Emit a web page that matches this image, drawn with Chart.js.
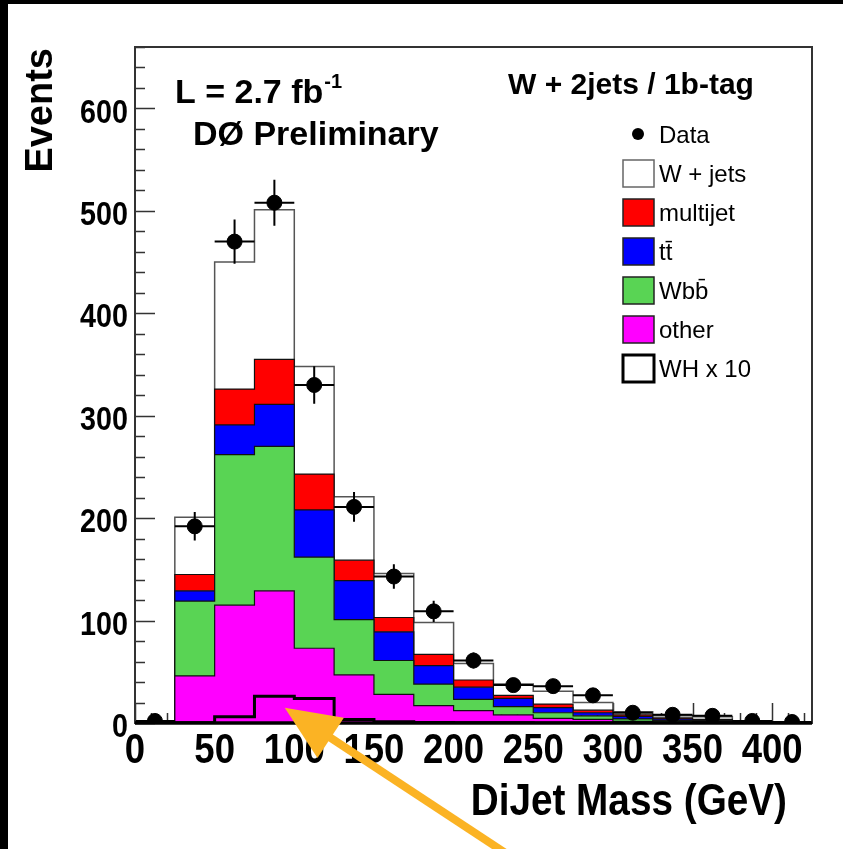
<!DOCTYPE html>
<html>
<head>
<meta charset="utf-8">
<script src="https://cdn.jsdelivr.net/npm/chart.js@4.4.1/dist/chart.umd.min.js"></script>
<style>
  html, body { margin: 0; padding: 0; background: #000; }
  canvas { display: block; }
</style>
</head>
<body>
<canvas id="dijet" width="843" height="849"></canvas>
<script>
// bordes de los bins (GeV), bins de 25 GeV
var binEdges = [0, 25, 50, 75, 100, 125, 150, 175, 200, 225, 250, 275, 300, 325, 350, 375, 400, 425];

// datos observados y su error
var dataEvents = [2, 192, 470, 508, 330, 211, 143, 109, 61, 37, 36, 27, 10, 8, 7, 2, 1];
var dataErrors = [1.4, 13.9, 21.7, 22.5, 18.2, 14.5, 12, 10.4, 7.8, 6.1, 6, 5.2, 3.2, 2.8, 2.6, 1.4, 1];

// fondos (apilados, de abajo hacia arriba)
var otherBkg    = [0, 46, 115, 129, 73, 47, 28, 17, 12, 8, 4.5, 3.5, 1.5, 1, 0.5, 0, 0];
var wbbBkg      = [0, 73, 147, 141, 89, 54, 33, 21, 11, 8, 5.5, 3.5, 2.5, 1.5, 1, 0, 0];
var ttBkg       = [0, 10, 29, 41, 46, 38, 28, 18, 12, 8, 5, 3, 2.5, 1.5, 1, 0, 0];
var multijetBkg = [0, 16, 35, 44, 35, 20, 14, 11, 7, 3, 3.5, 2.5, 1.5, 1, 1, 0.5, 0];
var wjetsBkg    = [0, 56, 124, 146, 105, 62, 43, 31, 16, 11, 12.5, 7.5, 3, 2, 2.5, 1, 1];

// senal WH multiplicada por 10
var whTimes10 = [0, 0.3, 6, 26, 24, 3.5, 1.3, 0.5, 0.3, 0.2, 0.1, 0, 0, 0, 0, 0, 0];

// etiquetas de los ejes
var xTickValues = [0, 50, 100, 150, 200, 250, 300, 350, 400];
var yTickValues = [0, 100, 200, 300, 400, 500, 600];

var FONT = "'Liberation Sans', Arial, Helvetica, sans-serif";

// puntos para el histograma escalonado
function stepPoints(values) {
    return binEdges.map(function (e, i) {
        return { x: e, y: i < values.length ? values[i] : 0 };
    });
}

var dataPoints = dataEvents.map(function (v, i) {
    return { x: (binEdges[i] + binEdges[i + 1]) / 2, y: v };
});

function stackLayer(label, values, fillColor, fill, lineColor, lineWidth) {
    return {
        type: "line",
        label: label,
        data: stepPoints(values),
        stepped: "before",
        fill: fill,
        backgroundColor: fillColor,
        borderColor: lineColor,
        borderWidth: lineWidth,
        pointRadius: 0,
        stack: "mc",
        order: 2,
    };
}

// texto condensado (estilo ROOT)
function drawText(ctx, text, x, y, font, align, sx, baseline) {
    ctx.save();
    ctx.translate(x, y);
    ctx.scale(sx, 1);
    ctx.font = font;
    ctx.textAlign = align;
    ctx.textBaseline = baseline || "alphabetic";
    ctx.fillText(text, 0, 0);
    ctx.restore();
}

var panelPlugin = {
    id: "panel",
    beforeDraw: function (chart) {
        var ctx = chart.ctx;
        ctx.save();
        ctx.fillStyle = "#000";
        ctx.fillRect(0, 0, chart.width, chart.height);
        ctx.fillStyle = "#fff";
        ctx.fillRect(8, 4, chart.width - 8, chart.height - 4);
        ctx.restore();
    },
};

// marcas de los ejes (por debajo del histograma, como en ROOT)
var ticksPlugin = {
    id: "ticks",
    beforeDatasetsDraw: function (chart) {
        var ctx = chart.ctx, a = chart.chartArea;
        var xs = chart.scales.x, ys = chart.scales.y;
        ctx.save();
        ctx.strokeStyle = "#333";
        ctx.lineWidth = 1.5;
        ctx.beginPath();
        for (var v = 0; v <= xs.max; v += 10) {
            var px = Math.round(xs.getPixelForValue(v)) + 0.5;
            var len = v % 50 === 0 ? 20 : 10;
            ctx.moveTo(px, a.bottom);
            ctx.lineTo(px, a.bottom - len);
        }
        for (var w = 0; w <= ys.max; w += 20) {
            var py = Math.round(ys.getPixelForValue(w)) + 0.5;
            var l2 = w % 100 === 0 ? 20 : 10;
            ctx.moveTo(a.left, py);
            ctx.lineTo(a.left + l2, py);
        }
        ctx.stroke();
        ctx.restore();
    },
};

var legendEntries = [
    { label: "Data", kind: "marker" },
    { label: "W + jets", fill: "#fff", line: "#666", width: 1.5 },
    { label: "multijet", fill: "#ff0000", line: "#222", width: 1.5 },
    { label: "tt\u0304", fill: "#0000ff", line: "#222", width: 1.5 },
    { label: "Wbb\u0304", fill: "#59d454", line: "#222", width: 1.5 },
    { label: "other", fill: "#ff00ff", line: "#222", width: 1.5 },
    { label: "WH x 10", fill: "#fff", line: "#000", width: 3 },
];

var overlayPlugin = {
    id: "overlay",
    afterDatasetsDraw: function (chart) {
        var ctx = chart.ctx, a = chart.chartArea;
        var xs = chart.scales.x, ys = chart.scales.y;
        ctx.save();

        // barras de error de los datos
        ctx.strokeStyle = "#000";
        ctx.lineWidth = 2;
        ctx.beginPath();
        dataEvents.forEach(function (v, i) {
            var x0 = xs.getPixelForValue(binEdges[i]);
            var x1 = xs.getPixelForValue(binEdges[i + 1]);
            var xc = (x0 + x1) / 2;
            var yc = ys.getPixelForValue(v);
            ctx.moveTo(x0, yc);
            ctx.lineTo(x1, yc);
            ctx.moveTo(xc, ys.getPixelForValue(v + dataErrors[i]));
            ctx.lineTo(xc, ys.getPixelForValue(Math.max(0, v - dataErrors[i])));
        });
        ctx.stroke();

        // marco
        ctx.strokeStyle = "#333";
        ctx.lineWidth = 2;
        ctx.strokeRect(a.left, a.top, a.right - a.left, a.bottom - a.top);
        ctx.strokeStyle = "#000";
        ctx.lineWidth = 3.5;
        ctx.beginPath();
        ctx.moveTo(a.left, a.bottom);
        ctx.lineTo(a.right, a.bottom);
        ctx.stroke();

        // etiquetas de los ejes
        ctx.fillStyle = "#000";
        yTickValues.forEach(function (v) {
            drawText(ctx, String(v), a.left - 7, ys.getPixelForValue(v) + 5,
                "bold 33px " + FONT, "right", 0.87, "middle");
        });
        xTickValues.forEach(function (v) {
            drawText(ctx, String(v), xs.getPixelForValue(v), 763,
                "bold 43px " + FONT, "center", 0.85);
        });

        // titulos de los ejes
        ctx.save();
        ctx.translate(52, 48);
        ctx.rotate(-Math.PI / 2);
        ctx.font = "bold 38px " + FONT;
        ctx.textAlign = "right";
        ctx.fillText("Events", 0, 0);
        ctx.restore();
        drawText(ctx, "DiJet Mass (GeV)", 787, 815, "bold 44px " + FONT, "right", 0.88);

        // textos
        ctx.font = "bold 34px " + FONT;
        ctx.textAlign = "left";
        ctx.fillText("L = 2.7 fb", 175, 103);
        var lw = ctx.measureText("L = 2.7 fb").width;
        ctx.font = "bold 20px " + FONT;
        ctx.fillText("-1", 175 + lw + 1, 88);
        ctx.font = "bold 34px " + FONT;
        ctx.fillText("D\u00d8 Preliminary", 193, 145);
        ctx.font = "bold 30px " + FONT;
        ctx.fillText("W + 2jets / 1b-tag", 508, 94);

        // leyenda
        legendEntries.forEach(function (e, i) {
            var cy = 134 + i * 39;
            if (e.kind === "marker") {
                ctx.fillStyle = "#000";
                ctx.beginPath();
                ctx.arc(638, cy, 6, 0, Math.PI * 2);
                ctx.fill();
            } else {
                ctx.fillStyle = e.fill;
                ctx.fillRect(623, cy - 13, 31, 27);
                ctx.strokeStyle = e.line;
                ctx.lineWidth = e.width;
                ctx.strokeRect(623, cy - 13, 31, 27);
            }
            ctx.fillStyle = "#000";
            ctx.font = "24px " + FONT;
            ctx.textAlign = "left";
            ctx.textBaseline = "alphabetic";
            ctx.fillText(e.label, 659, cy + 9);
        });

        // flecha senalando la senal WH
        var tx = xs.getPixelForValue(94), ty = ys.getPixelForValue(15);
        var bx = 510, by = 856;
        var dx = tx - bx, dy = ty - by, len = Math.sqrt(dx * dx + dy * dy);
        var ux = dx / len, uy = dy / len;
        var hb = 55, hw = 24;
        var cx = tx - ux * hb, cy2 = ty - uy * hb;
        ctx.strokeStyle = "#fbb324";
        ctx.fillStyle = "#fbb324";
        ctx.lineWidth = 8;
        ctx.beginPath();
        ctx.moveTo(bx, by);
        ctx.lineTo(cx + ux * 5, cy2 + uy * 5);
        ctx.stroke();
        ctx.beginPath();
        ctx.moveTo(tx, ty);
        ctx.lineTo(cx - uy * hw, cy2 + ux * hw);
        ctx.lineTo(cx + uy * hw, cy2 - ux * hw);
        ctx.closePath();
        ctx.fill();

        ctx.restore();
    },
};

var ctx = document.getElementById("dijet").getContext("2d");
var dijetChart = new Chart(ctx, {
    type: "line",
    data: {
        datasets: [
            stackLayer("other", otherBkg, "#ff00ff", "origin", "#111", 1.2),
            stackLayer("Wbb", wbbBkg, "#59d454", "-1", "#111", 1.2),
            stackLayer("tt", ttBkg, "#0000ff", "-1", "#111", 1.2),
            stackLayer("multijet", multijetBkg, "#ff0000", "-1", "#111", 1.2),
            stackLayer("W + jets", wjetsBkg, "#ffffff", "-1", "#555", 1.5),
            {
                type: "line",
                label: "WH x 10",
                data: stepPoints(whTimes10),
                stepped: "before",
                fill: false,
                borderColor: "#000",
                borderWidth: 3,
                pointRadius: 0,
                stack: "wh",
                order: 1,
            },
            {
                type: "scatter",
                label: "Data",
                data: dataPoints,
                pointRadius: 7.5,
                pointBackgroundColor: "#000",
                pointBorderColor: "#000",
                showLine: false,
                stack: "data",
                order: 0,
            },
        ],
    },
    options: {
        responsive: false,
        animation: false,
        layout: { padding: { left: 135, top: 47, right: 31, bottom: 126 } },
        plugins: { legend: { display: false }, tooltip: { enabled: false } },
        scales: {
            x: { type: "linear", min: 0, max: 425, display: false },
            y: { min: 0, max: 660, stacked: true, display: false },
        },
    },
    plugins: [panelPlugin, ticksPlugin, overlayPlugin],
});
</script>
</body>
</html>
